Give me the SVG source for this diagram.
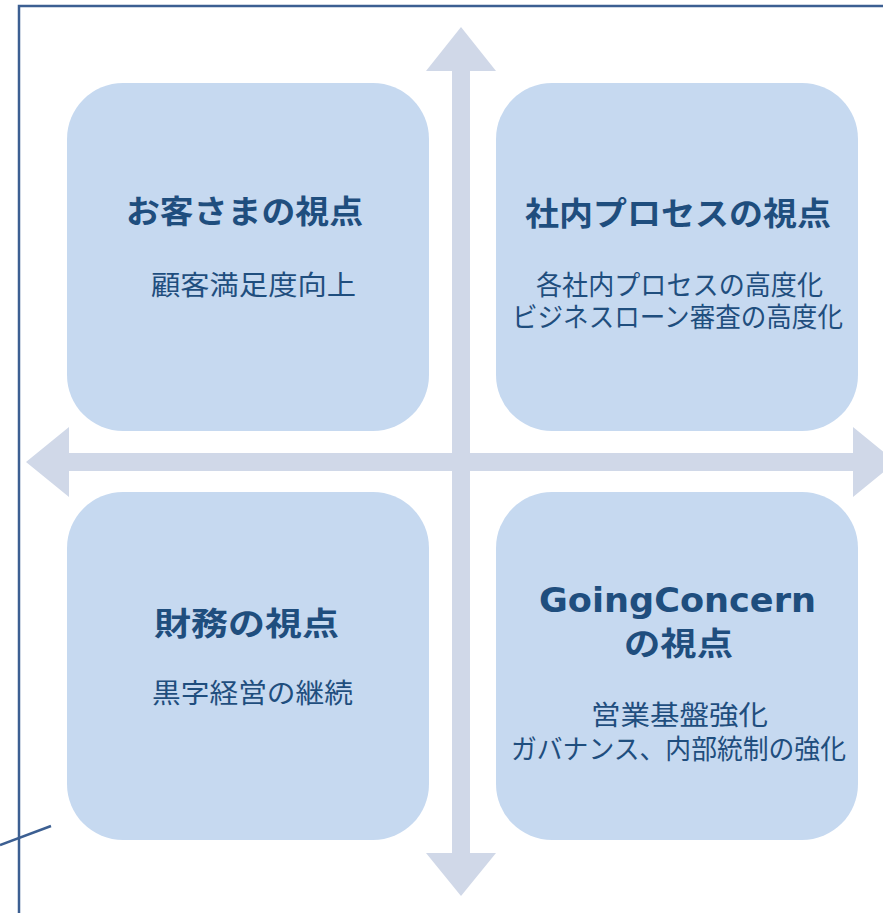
<svg xmlns="http://www.w3.org/2000/svg" width="883" height="913" viewBox="0 0 883 913">
<style>
.box{fill:#c6d9f0;}
.arrow{fill:#d0d8e8;}
.frame{stroke:#3c5f92;stroke-width:2.5;fill:none;}
.t{font-family:"Noto Sans CJK JP","Noto Sans",sans-serif;font-weight:bold;font-size:32px;fill:#1f4e7e;}
.tl{font-family:"DejaVu Sans","Noto Sans CJK JP",sans-serif;font-weight:bold;font-size:33px;fill:#1f4e7e;}
.s{font-family:"Noto Sans CJK JP","Noto Sans",sans-serif;font-size:27px;fill:#1f4e7e;}
</style>
<rect width="883" height="913" fill="#ffffff"/>
<g id="frame">
<polyline class="frame" points="19,913 19,6 883,6"/>
<line class="frame" x1="0" y1="845" x2="51" y2="826"/>
</g>
<g id="connectors">
<polygon class="arrow" points="461,27 496,71 470,71 470,853 496,853 461,896 426,853 452,853 452,71 426,71"/>
<polygon class="arrow" points="26,462 69,427 69,453 853,453 853,427 896,462 853,497 853,471 69,471 69,497"/>
</g>
<g id="customer">
<rect class="box" x="67" y="83" width="362" height="348" rx="56"/>
<text class="t" x="126" y="223" textLength="237" lengthAdjust="spacingAndGlyphs">お客さまの視点</text>
<text class="s" x="151" y="295" textLength="205" lengthAdjust="spacingAndGlyphs">顧客満足度向上</text>
</g>
<g id="process">
<rect class="box" x="496" y="83" width="362" height="348" rx="56"/>
<text class="t" x="525" y="225" textLength="306" lengthAdjust="spacingAndGlyphs">社内プロセスの視点</text>
<text class="s" x="536" y="295" textLength="287" lengthAdjust="spacingAndGlyphs">各社内プロセスの高度化</text>
<text class="s" x="512" y="327" textLength="331" lengthAdjust="spacingAndGlyphs">ビジネスローン審査の高度化</text>
</g>
<g id="finance">
<rect class="box" x="67" y="492" width="362" height="348" rx="56"/>
<text class="t" x="154" y="635" textLength="185" lengthAdjust="spacingAndGlyphs">財務の視点</text>
<text class="s" x="152" y="703" textLength="201" lengthAdjust="spacingAndGlyphs">黒字経営の継続</text>
</g>
<g id="goingconcern">
<rect class="box" x="496" y="492" width="362" height="348" rx="56"/>
<text class="tl" x="539" y="612" textLength="277" lengthAdjust="spacingAndGlyphs">GoingConcern</text>
<text class="t" x="624" y="655" textLength="109" lengthAdjust="spacingAndGlyphs">の視点</text>
<text class="s" x="591" y="725" textLength="177" lengthAdjust="spacingAndGlyphs">営業基盤強化</text>
<text class="s" x="511" y="759" textLength="335" lengthAdjust="spacingAndGlyphs">ガバナンス、内部統制の強化</text>
</g>
</svg>
